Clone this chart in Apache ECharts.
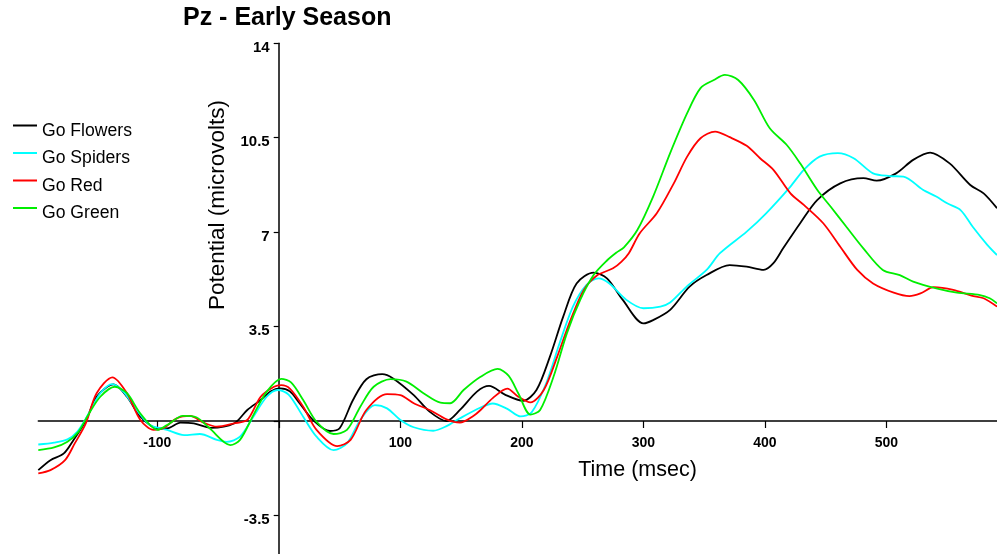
<!DOCTYPE html>
<html>
<head>
<meta charset="utf-8">
<script src="https://cdn.jsdelivr.net/npm/echarts@6/dist/echarts.min.js"></script>
<style>
html,body{margin:0;padding:0;background:#fff;}
#chart{width:997px;height:554px;}
</style>
</head>
<body>
<div id="chart"></div>
<script>
// Time (msec), Potential (microvolts) pairs
const goFlowers = [[-198,-1.82],[-188,-1.45],[-177,-1.2],[-169,-0.7],[-159,0],[-150,0.9],[-136,1.36],[-125,0.9],[-114,0.16],[-100,-0.27],[-92,-0.27],[-81,-0.06],[-70,-0.09],[-56,-0.25],[-37,-0.09],[-26,0.41],[-15,0.78],[-7,1.09],[1,1.21],[9,1.1],[17,0.66],[28,0.04],[42,-0.37],[50,-0.27],[61,0.78],[72,1.55],[85,1.74],[94,1.58],[111,0.96],[124,0.35],[138,0],[149,0.41],[163,1.09],[173,1.3],[186,0.98],[201,0.75],[212,1.15],[223,2.38],[234,3.87],[245,5.1],[259,5.5],[270,5.29],[283,4.49],[300,3.62],[308,3.74],[322,4.12],[338,4.98],[352,5.41],[371,5.78],[385,5.72],[399,5.6],[407,5.85],[415,6.4],[429,7.33],[443,8.19],[462,8.81],[481,9.0],[492,8.91],[508,9.18],[522,9.68],[536,9.95],[552,9.55],[569,8.75],[580,8.44],[591,7.89]];
const goSpiders = [[-198,-0.87],[-185,-0.8],[-174,-0.68],[-166,-0.4],[-158,0.16],[-147,1.03],[-137,1.37],[-128,1.09],[-117,0.41],[-106,-0.15],[-92,-0.33],[-78,-0.52],[-65,-0.48],[-51,-0.7],[-43,-0.77],[-32,-0.58],[-21,0.16],[-10,0.9],[-1,1.15],[8,0.98],[20,0.16],[31,-0.58],[45,-1.08],[56,-0.83],[67,0.04],[79,0.59],[89,0.47],[100,0.04],[111,-0.23],[127,-0.36],[138,-0.19],[149,0.1],[166,0.5],[176,0.65],[188,0.45],[199,0.17],[208,0.32],[220,1.4],[231,2.88],[242,4.24],[253,5.04],[263,5.29],[272,5.1],[286,4.49],[300,4.18],[314,4.24],[322,4.39],[336,5.0],[352,5.6],[363,6.22],[385,7.02],[401,7.7],[421,8.69],[432,9.31],[445,9.8],[460,9.93],[473,9.74],[489,9.18],[503,9.08],[514,9.06],[530,8.57],[541,8.32],[550,8.07],[561,7.82],[571,7.2],[583,6.53],[591,6.15]];
const goRed = [[-198,-1.94],[-188,-1.82],[-176,-1.45],[-168,-0.83],[-159,-0.1],[-150,1.03],[-137,1.62],[-125,1.03],[-114,0.04],[-103,-0.33],[-95,-0.27],[-84,0.1],[-73,0.19],[-62,-0.06],[-51,-0.21],[-37,-0.09],[-26,0.04],[-15,0.9],[-4,1.27],[2,1.33],[9,1.2],[20,0.53],[31,-0.33],[48,-0.93],[59,-0.7],[72,0.41],[89,1.0],[100,0.96],[111,0.66],[124,0.41],[138,0.06],[149,-0.06],[160,0.19],[166,0.41],[176,0.85],[188,1.2],[197,0.9],[207,0.69],[218,1.15],[229,2.38],[240,3.74],[251,4.86],[262,5.4],[275,5.66],[282,5.91],[288,6.22],[297,6.96],[311,7.7],[325,8.81],[336,9.8],[347,10.48],[359,10.73],[371,10.52],[385,10.2],[396,9.74],[407,9.31],[421,8.44],[432,8.01],[448,7.33],[462,6.46],[476,5.6],[489,5.1],[506,4.76],[519,4.63],[528,4.73],[539,4.96],[555,4.86],[570,4.65],[580,4.55],[591,4.24]];
const goGreen = [[-198,-1.08],[-185,-0.98],[-174,-0.77],[-165,-0.4],[-157,0.22],[-147,0.9],[-135,1.27],[-125,1.03],[-114,0.28],[-100,-0.33],[-92,-0.15],[-79,0.19],[-68,0.14],[-57,-0.27],[-40,-0.89],[-32,-0.7],[-21,0.22],[-10,1.09],[2,1.56],[10,1.43],[20,0.78],[31,-0.03],[45,-0.48],[56,-0.33],[67,0.53],[78,1.27],[92,1.55],[105,1.46],[119,1.03],[133,0.68],[141,0.66],[152,1.15],[166,1.64],[180,1.93],[189,1.68],[197,1.03],[207,0.24],[215,0.41],[226,1.64],[237,3.25],[248,4.49],[259,5.41],[270,5.95],[278,6.25],[284,6.44],[295,7.08],[308,8.32],[322,9.93],[336,11.41],[347,12.34],[358,12.64],[367,12.83],[378,12.64],[391,11.9],[404,10.85],[418,10.23],[429,9.55],[443,8.57],[454,7.95],[467,7.2],[481,6.4],[497,5.6],[511,5.41],[522,5.17],[541,4.92],[558,4.76],[577,4.67],[585,4.55],[591,4.36]];

const seriesNames = ['Go Flowers','Go Spiders','Go Red','Go Green'];
const seriesColors = ['#000000','#00ffff','#ff0000','#00ee00'];
const xTickValues = [-100, 0, 100, 200, 300, 400, 500];
const xLabelValues = [-100, 100, 200, 300, 400, 500];
const hiddenYLabels = [-7, 0];

const chart = echarts.init(document.getElementById('chart'), null, {renderer:'canvas'});
const FONT = 'Liberation Sans, Arial, Helvetica, sans-serif';
const allData = [goFlowers, goSpiders, goRed, goGreen];

// grid geometry: x from -198 (left edge) to 591 (right edge); y from -7 (below canvas) to 14
const GRID_LEFT = 38.3, GRID_TOP = 43.3, GRID_BOTTOM = -55.9;
const X_ZERO_PX = 278.7, Y_ZERO_PX = 421;

chart.setOption({
  animation:false,
  backgroundColor:'#ffffff',
  title:{
    text:'Pz - Early Season',
    left:183, top:6, padding:0,
    textStyle:{fontFamily:FONT,fontSize:25,fontWeight:'bold',color:'#000'}
  },
  legend:{
    data:seriesNames,
    orient:'vertical',
    left:13, top:121, padding:0,
    itemWidth:24, itemHeight:13, itemGap:7.5,
    icon:'path://M0,0 L24,0 L24,2 L0,2 Z M0,13 L0.01,13 L0,13 Z',
    itemStyle:{borderWidth:0},
    textStyle:{fontFamily:FONT,fontSize:17.6,color:'#000',lineHeight:20}
  },
  grid:{left:GRID_LEFT,right:0,top:GRID_TOP,bottom:GRID_BOTTOM,containLabel:false,outerBoundsMode:'none'},
  xAxis:{
    type:'value', min:-198, max:591, position:'bottom',
    offset:-((554 - GRID_BOTTOM) - Y_ZERO_PX),
    axisLine:{onZero:false,lineStyle:{color:'#000',width:1.5}},
    axisTick:{show:true,length:7,customValues:xTickValues,lineStyle:{color:'#000',width:1.2}},
    axisLabel:{customValues:xLabelValues,margin:15,fontFamily:FONT,fontSize:14,fontWeight:'bold',color:'#000'},
    splitLine:{show:false}
  },
  yAxis:{
    type:'value', min:-7, max:14, interval:3.5, position:'left',
    offset:-(X_ZERO_PX - GRID_LEFT),
    axisLine:{show:true,onZero:false,lineStyle:{color:'#000',width:1.5}},
    axisTick:{show:true,length:5,lineStyle:{color:'#000',width:1.2}},
    axisLabel:{margin:9,fontFamily:FONT,fontSize:15,fontWeight:'bold',color:'#000',
      verticalAlign:'top',lineHeight:9,
      formatter:v=>hiddenYLabels.indexOf(v)>=0?'':String(v)},
    splitLine:{show:false}
  },
  graphic:[
    {type:'text',x:218,y:205,rotation:Math.PI/2,
      style:{text:'Potential (microvolts)',fontFamily:FONT,fontSize:22.5,fill:'#000',align:'center',verticalAlign:'middle'}},
    {type:'text',x:637.5,y:470,
      style:{text:'Time (msec)',fontFamily:FONT,fontSize:21.5,fill:'#000',align:'center',verticalAlign:'middle'}}
  ],
  series: seriesNames.map((n,i)=>({
    name:n, type:'line', data:allData[i], smooth:0.3, showSymbol:false,
    lineStyle:{color:seriesColors[i],width:1.8}, itemStyle:{color:seriesColors[i]},
    clip:true
  }))
});
</script>
</body>
</html>
